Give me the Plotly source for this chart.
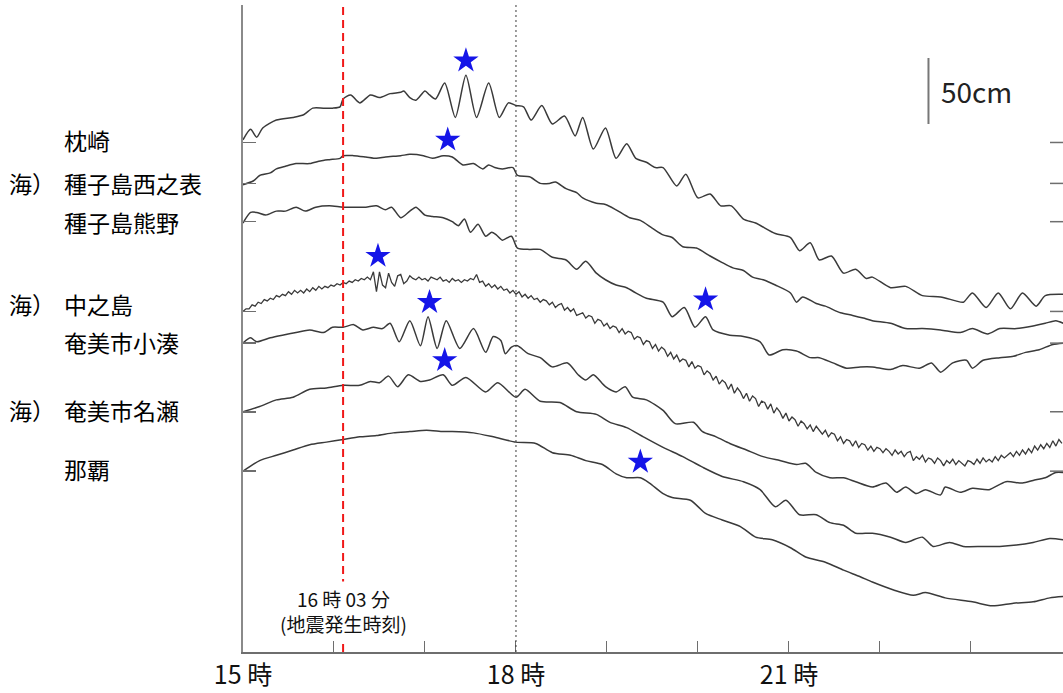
import plotly.graph_objects as go

# ---------------- data (time = minutes after 15:00, level = cm relative to each station's baseline) -------------
STATIONS = ["枕崎", "種子島西之表", "種子島熊野", "中之島", "奄美市小湊", "奄美市名瀬", "那覇"]
PREFIX = ["", "海）", "", "海）", "", "海）", ""]
OFFSETS_CM = [386, 355, 326, 258, 234, 182, 137]   # baseline of each trace on the stacked axis (cm)

MAKURAZAKI = [(0,2),(5,10),(9,4),(13,11),(22,17),(33,19),(40,21),(46,26),(53,26),(59,26),(64,27),(66,33),(71,36),
    (77,30),(84,36),(90,34),(97,37),(104,38),(106,39),(110,34),(114,32),(120,39),(123,36),(127,33),(133,45),(140,19),
    (147,51),(154,19),(162,45),(169,19),(175,30),(180,28),(185,27),(190,17),(197,28),(204,14),(212,20),(219,5),(224,19),
    (231,-5),(239,11),(246,-12),(253,-1),(259,-12),(266,-15),(272,-19),(277,-19),(286,-33),(292,-24),(300,-42),(308,-39),
    (315,-48),(322,-48),(330,-58),(338,-61),(351,-69),(361,-72),(367,-82),(374,-76),(380,-89),(388,-86),(396,-99),
    (404,-96),(411,-103),(415,-102),(427,-110),(437,-109),(448,-116),(460,-117),(470,-120),(475,-121),(481,-114),
    (490,-125),(498,-114),(506,-126),(514,-114),(523,-124),(529,-116),(541,-115)]

NISHINOOMOTE = [(0,-1),(7,2),(11,6),(18,8),(22,11),(28,13),(35,15),(44,15),(51,17),(57,18),(64,19),(66,21),(73,21),
    (81,20),(88,19),(94,20),(104,21),(110,22),(119,21),(125,19),(132,21),(138,20),(145,14),(152,15),(158,11),(162,14),
    (166,12),(171,11),(178,12),(181,6),(189,5),(196,0),(202,0),(206,1),(213,-4),(220,-7),(224,-11),(233,-15),(239,-16),
    (246,-20),(255,-26),(262,-28),(270,-34),(277,-39),(283,-41),(290,-48),(299,-49),(308,-55),(316,-60),(323,-64),
    (330,-66),(336,-71),(343,-73),(351,-77),(361,-83),(365,-90),(369,-86),(378,-91),(384,-93),(394,-98),(402,-100),
    (409,-102),(415,-104),(427,-106),(437,-110),(448,-110),(460,-111),(473,-113),(481,-110),(491,-114),(499,-110),
    (510,-110),(521,-108),(529,-106),(536,-104),(541,-106)]

KUMANO = [(0,-1),(5,7),(9,7),(15,5),(22,8),(28,8),(35,11),(41,8),(48,11),(57,12),(66,11),(74,11),(81,11),(88,12),
    (94,9),(98,11),(104,3),(110,8),(114,11),(120,5),(125,4),(132,3),(138,0),(142,-3),(146,2),(150,-8),(155,-2),(160,-11),
    (164,-8),(167,-10),(171,-14),(177,-11),(181,-20),(189,-21),(196,-21),(204,-27),(213,-29),(220,-36),(226,-30),
    (233,-39),(239,-44),(246,-48),(253,-50),(259,-54),(266,-58),(277,-61),(283,-72),(291,-65),(298,-80),(305,-72),
    (310,-82),(321,-86),(330,-87),(341,-91),(347,-101),(356,-97),(365,-98),(374,-103),(380,-103),(389,-107),(398,-111),
    (407,-110),(415,-110),(427,-112),(435,-109),(446,-111),(454,-107),(460,-114),(468,-107),(477,-105),(481,-111),
    (488,-105),(499,-103),(508,-102),(516,-99),(525,-97),(534,-93),(541,-92)]

# 中之島: read every 2 minutes from 15:00
NAKANOSHIMA_STEP_MIN = 2
NAKANOSHIMA = [
    0,2,2,5,4,7,6,9,8,10,9,12,11,13,12,15,13,16,14,16,14,17,15,18,16,19,17,19,18,20,19,21,20,22,21,23,22,24,23,25,24,
    26,24,
    30,15,30,20,18,29,22,19,27,28,21,23,27,
    25,24,26,24,25,23,26,25,24,26,23,24,22,25,23,24,22,24,23,25,24,28,22,23,19,21,18,20,17,19,16,17,14,16,13,15,11,13,
    10,12,9,10,7,9,
    8,5,7,3,5,6,1,3,0,2,-3,-2,-1,-5,-3,-4,-9,-6,-7,-11,-9,-13,-11,-12,-16,-13,-17,-15,-16,-21,-19,-20,-25,-22,-23,-28,
    -25,-30,-27,-29,-34,-31,-36,-33,-38,-36,-37,-42,-38,-43,-41,-42,-48,-45,-47,-52,-49,-55,-52,-54,-59,-55,-62,-58,
    -61,-66,-62,-68,-64,-66,-72,-68,-69,-74,-70,-77,-73,-76,-81,-77,-83,-80,-82,-87,-83,-85,-89,-86,-91,-87,-90,-93,
    -90,-95,-92,-93,-98,-95,-100,-97,-98,-102,-98,-103,-100,-101,-105,-102,-106,-103,-104,
    -107,-104,-106,-109,-105,-108,-106,-110,-107,-106,
    -113,-110,-112,-109,-114,-111,-112,-115,-111,-113,
    -117,-113,-115,-112,-116,-113,-115,-117,-113,-114,
    -116,-112,-115,-111,-114,-112,-114,-110,-113,-109,
    -111,-109,-107,-110,-106,-109,-105,-108,-104,-107,
    -102,-105,-101,-104,-100,-103,-98,-102,-97,-100]

KOMINATO = [(0,0),(5,4),(9,1),(18,4),(26,6),(35,8),(44,10),(53,8),(59,12),(66,12),(73,14),(79,10),(86,12),(92,11),
    (97,15),(103,1),(110,17),(117,-2),(122,20),(128,-4),(134,17),(143,-4),(152,11),(160,-7),(165,5),(170,2),(173,-8),
    (177,-3),(181,-2),(188,-8),(196,-11),(204,-18),(214,-15),(221,-24),(226,-28),(231,-24),(239,-33),(246,-37),
    (252,-33),(257,-41),(266,-43),(277,-51),(285,-61),(297,-60),(303,-67),(312,-71),(321,-76),(332,-81),(343,-86),
    (354,-89),(365,-92),(371,-91),(378,-98),(387,-102),(396,-102),(404,-105),(415,-109),(424,-106),(431,-113),
    (437,-109),(444,-114),(450,-111),(460,-115),(463,-109),(473,-113),(481,-110),(492,-111),(503,-105),(514,-106),
    (521,-104),(529,-102),(536,-98),(541,-98)]

NAZE = [(0,0),(11,4),(22,9),(33,11),(44,17),(55,18),(66,20),(77,20),(84,23),(90,22),(96,27),(102,19),(109,28),
    (117,23),(123,24),(132,28),(138,20),(147,26),(160,15),(168,22),(180,11),(186,17),(196,8),(209,7),(220,0),(233,-2),
    (242,-8),(253,-12),(264,-19),(277,-27),(290,-34),(303,-42),(316,-49),(330,-53),(341,-59),(351,-72),(358,-67),
    (367,-78),(378,-78),(387,-84),(396,-86),(404,-92),(415,-92),(427,-95),(437,-99),(448,-95),(455,-102),(466,-99),
    (475,-102),(488,-102),(499,-102),(510,-101),(521,-99),(532,-96),(541,-97)]

NAHA = [(0,0),(11,8),(22,12),(33,16),(44,20),(55,22),(66,24),(77,26),(88,27),(99,29),(110,30),(121,31),(132,30),
    (138,30),(152,29),(165,26),(180,22),(193,21),(204,14),(216,12),(226,8),(237,5),(246,-2),(253,-5),(262,-5),(268,-9),
    (277,-17),(283,-20),(295,-22),(305,-32),(316,-37),(328,-42),(338,-50),(349,-52),(361,-58),(371,-65),(384,-69),
    (396,-75),(407,-80),(415,-84),(429,-90),(442,-94),(450,-92),(463,-96),(481,-99),(494,-102),(508,-100),(521,-99),
    (532,-96),(541,-95)]

# maximum-wave markers (★): time (min after 15:00) and level (cm above station baseline), station order as STATIONS
STAR_TIME = [147, 135, 305, 89, 123, 133, 262]
STAR_CM = [62, 33, -59, 42, 31, 39, 7]

QUAKE_TIME = 66          # red dashed line (earthquake)
HOUR_TICKS = [0, 60, 120, 180, 240, 300, 360, 420, 480]
HOUR_TEXT = ["15 時", "", "", "18 時", "", "", "21 時", "", ""]
SCALE_CM = 50

# ---------------- figure -------------
X_MAX = 540.7
Y_MAX = 490.15
LINE_COLOR = "#3a3a3a"
AXIS_COLOR = "#6e6e6e"
JP = "Noto Sans CJK JP"

series = [MAKURAZAKI, NISHINOOMOTE, KUMANO, None, KOMINATO, NAZE, NAHA]
fig = go.Figure()
for i, s in enumerate(series):
    if s is None:
        xs = [k * NAKANOSHIMA_STEP_MIN for k in range(len(NAKANOSHIMA))]
        ys = [OFFSETS_CM[i] + v for v in NAKANOSHIMA]
        line = dict(color=LINE_COLOR, width=1.3)
    else:
        xs = [p[0] for p in s]
        ys = [OFFSETS_CM[i] + p[1] for p in s]
        line = dict(color=LINE_COLOR, width=1.5, shape="spline", smoothing=0.7)
    fig.add_trace(go.Scatter(x=xs, y=ys, mode="lines", line=line, name=STATIONS[i], hoverinfo="skip"))

fig.add_trace(go.Scatter(
    x=STAR_TIME, y=[OFFSETS_CM[i] + STAR_CM[i] for i in range(len(STAR_CM))],
    mode="markers", marker=dict(symbol="star", size=19, color="#1515e8", line=dict(width=0)),
    hoverinfo="skip"))

shapes = []
for off in OFFSETS_CM:
    shapes.append(dict(type="line", xref="paper", yref="y", x0=1 - 13 / 820, x1=1, y0=off, y1=off,
                       line=dict(color=AXIS_COLOR, width=1.5)))
shapes.append(dict(type="line", xref="x", yref="paper", x0=QUAKE_TIME, x1=QUAKE_TIME, y0=0, y1=1,
                   line=dict(color="#f01818", width=2, dash="8px,5px")))
shapes.append(dict(type="line", xref="x", yref="paper", x0=180, x1=180, y0=0, y1=1,
                   line=dict(color="#3a3a3a", width=1, dash="2px,3px")))
shapes.append(dict(type="line", xref="x", yref="y", x0=452, x1=452, y0=400, y1=400 + SCALE_CM,
                   line=dict(color="#777777", width=2)))

annotations = []
LABEL_Y = [388, 355, 326, 264, 235, 183, 139]
for i, name in enumerate(STATIONS):
    annotations.append(dict(xref="paper", yref="y", x=(62 - 243) / 820, y=LABEL_Y[i], text=name,
                            xanchor="left", yanchor="middle", showarrow=False,
                            font=dict(family=JP, size=23, color="#000")))
    if PREFIX[i]:
        annotations.append(dict(xref="paper", yref="y", x=(7 - 243) / 820, y=LABEL_Y[i], text=PREFIX[i],
                                xanchor="left", yanchor="middle", showarrow=False,
                                font=dict(family=JP, size=23, color="#000")))
annotations.append(dict(xref="x", yref="y", x=459, y=425, text=f"{SCALE_CM}cm", xanchor="left",
                        yanchor="middle", showarrow=False, font=dict(family=JP, size=28, color="#222")))
annotations.append(dict(xref="x", yref="y", x=QUAKE_TIME, y=31, text="16 時 03 分<br>(地震発生時刻)",
                        showarrow=False, xanchor="center", yanchor="middle", bgcolor="white", borderpad=3,
                        font=dict(family=JP, size=19, color="#111")))

fig.update_layout(
    width=1063, height=693, margin=dict(l=243, r=0, t=5, b=41),
    plot_bgcolor="white", paper_bgcolor="white", showlegend=False,
    shapes=shapes, annotations=annotations,
    xaxis=dict(range=[0, X_MAX], tickvals=HOUR_TICKS, ticktext=HOUR_TEXT, ticks="inside", ticklen=11,
               tickcolor=AXIS_COLOR, tickwidth=1, showline=True, linecolor=AXIS_COLOR, linewidth=2,
               showgrid=False, zeroline=False, tickfont=dict(family=JP, size=25, color="#111")),
    yaxis=dict(range=[0, Y_MAX], tickvals=OFFSETS_CM, ticks="inside", ticklen=13, tickcolor=AXIS_COLOR,
               tickwidth=1.5, showline=True, linecolor="#8a8a8a", linewidth=2, showticklabels=False,
               showgrid=False, zeroline=False),
)

fig.write_html("out.html", config={"displayModeBar": False, "staticPlot": True},
               post_script="document.body.style.margin='0';document.body.style.overflow='hidden';")
